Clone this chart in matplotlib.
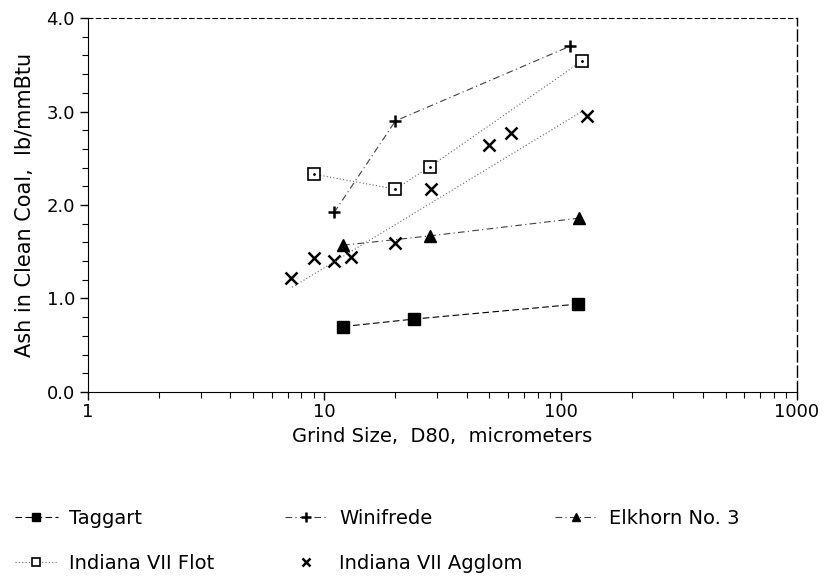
import matplotlib.pyplot as plt
from matplotlib.ticker import FixedLocator, MultipleLocator, NullFormatter

# Grind size (D80, micrometers) and ash in clean coal (lb/mmBtu)
taggart_x = [12, 24, 118]
taggart_y = [0.70, 0.78, 0.94]

winifrede_x = [11, 20, 110]
winifrede_y = [1.92, 2.90, 3.70]

elkhorn_x = [12, 28, 120]
elkhorn_y = [1.57, 1.67, 1.86]

flot_x = [9, 20, 28, 123]
flot_y = [2.33, 2.17, 2.41, 3.54]

agglom_x = [7.2, 9.05, 11, 13, 20, 28.3, 49.8, 61.7, 129]
agglom_y = [1.22, 1.43, 1.40, 1.44, 1.59, 2.17, 2.64, 2.77, 2.95]

agglom_fit_x = [7.3, 123]
agglom_fit_y = [1.12, 3.00]

fig = plt.figure(figsize=(8.24, 5.82), dpi=100)
ax = fig.add_axes([0.107, 0.3265, 0.860, 0.6425])

line_kw = dict(color='0.25', linewidth=0.8)
h1, = ax.plot(taggart_x, taggart_y, linestyle=(0, (6, 3)), marker='s',
              markersize=8.5, color='black', linewidth=0.8, label='Taggart')
h2, = ax.plot(winifrede_x, winifrede_y, linestyle=(0, (6, 3, 1, 3)), marker='+',
              markersize=9, markeredgewidth=1.8, markeredgecolor='black',
              label='Winifrede', **line_kw)
h3, = ax.plot(elkhorn_x, elkhorn_y, linestyle=(0, (6, 3, 1, 3)), marker='^',
              markersize=8.5, markerfacecolor='black', markeredgecolor='black',
              label='Elkhorn No. 3', **line_kw)
h4, = ax.plot(flot_x, flot_y, linestyle=(0, (1, 2)), marker='s', markersize=8.5,
              markerfacecolor='white', markeredgecolor='black',
              markeredgewidth=1.2, label='Indiana VII Flot', color='0.4',
              linewidth=0.8)
ax.plot(flot_x, flot_y, linestyle='none', marker='.', markersize=2,
        color='black')
h5, = ax.plot(agglom_x, agglom_y, linestyle='none', marker='x', markersize=8.5,
              markeredgewidth=1.8, color='black', label='Indiana VII Agglom')
ax.plot(agglom_fit_x, agglom_fit_y, linestyle=(0, (1, 2)), color='0.4',
        linewidth=0.8)

# Axes format
ax.set_xscale('log')
ax.set_xlim(1, 1000)
ax.set_ylim(0, 4.0)
ax.xaxis.set_major_locator(FixedLocator([1, 10, 100, 1000]))
ax.set_xticklabels(['1', '10', '100', '1000'])
ax.xaxis.set_minor_locator(FixedLocator(
    [m * d for d in (1, 10, 100) for m in range(2, 10)]))
ax.xaxis.set_minor_formatter(NullFormatter())
ax.yaxis.set_major_locator(MultipleLocator(1.0))
ax.yaxis.set_minor_locator(MultipleLocator(0.2))
ax.yaxis.set_major_formatter(lambda v, p: f'{v:.1f}')

ax.tick_params(axis='both', which='major', labelsize=13, length=6, width=1)
ax.tick_params(axis='both', which='minor', length=4, width=0.8)
ax.tick_params(axis='y', which='both', direction='out')
ax.tick_params(axis='x', which='both', direction='out', pad=2)

ax.spines['top'].set_linestyle((0, (4, 3)))
ax.spines['top'].set_linewidth(0.8)
ax.spines['right'].set_linestyle((0, (8, 3)))
ax.spines['right'].set_linewidth(1.0)

ax.set_xlabel('Grind Size,  D80,  micrometers', fontsize=14, labelpad=4)
ax.set_ylabel('Ash in Clean Coal,  lb/mmBtu', fontsize=15, labelpad=8)

# Legend below the plot, three columns placed where the reference has them
leg_kw = dict(loc='upper left', frameon=False, fontsize=14, handlelength=2.2,
              handletextpad=0.6, labelspacing=1.35, markerscale=0.75,
              borderpad=0, borderaxespad=0)
columns = [([h1, h4], 15), ([h2, h5], 285), ([h3], 555)]
for handles, px in columns:
    fig.legend(handles=handles, bbox_to_anchor=(px / 824, 1 - 509 / 582),
               **leg_kw)

fig.savefig('out.png', dpi=100)
